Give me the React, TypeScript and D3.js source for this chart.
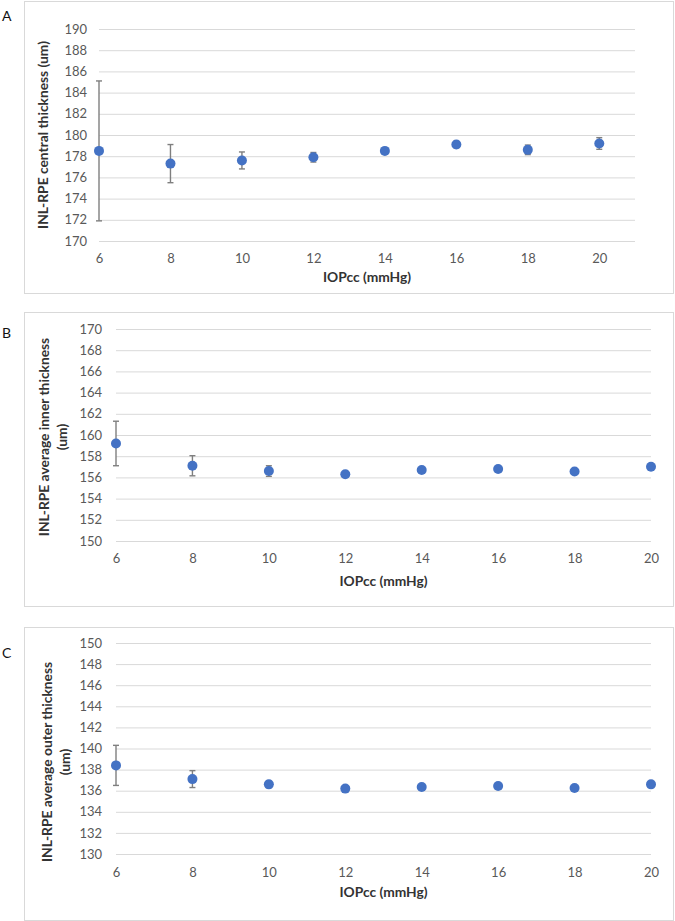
import * as d3 from "d3";
import React, { useEffect, useRef } from "react";

// IOPcc (mmHg) levels
const iop = [6, 8, 10, 12, 14, 16, 18, 20];
const xTicks = [6, 8, 10, 12, 14, 16, 18, 20];

// A: central thickness
const centralMean = [178.5, 177.3, 177.6, 177.9, 178.5, 179.1, 178.6, 179.2];
const centralErr = [6.6, 1.8, 0.8, 0.45, 0.3, 0.3, 0.45, 0.55];
const centralTicks = [170, 172, 174, 176, 178, 180, 182, 184, 186, 188, 190];

// B: average inner thickness
const innerMean = [159.2, 157.1, 156.6, 156.3, 156.7, 156.8, 156.55, 157.0];
const innerErr = [2.1, 0.95, 0.5, 0.2, 0.15, 0.15, 0.15, 0.25];
const innerTicks = [150, 152, 154, 156, 158, 160, 162, 164, 166, 168, 170];

// C: average outer thickness
const outerMean = [138.4, 137.1, 136.6, 136.2, 136.35, 136.45, 136.25, 136.6];
const outerErr = [1.9, 0.8, 0.3, 0.15, 0.15, 0.15, 0.15, 0.2];
const outerTicks = [130, 132, 134, 136, 138, 140, 142, 144, 146, 148, 150];

const width = 675;
const height = 921;
const font = "Lato, 'Open Sans', sans-serif";
const tickSize = 13;
const titleSize = 13.8;

const panels = [
  {
    letter: "A", letterY: 21, frame: [24, 1, 673, 293],
    left: 99, right: 635, top: 29, bottom: 241, xMax: 21,
    ticks: centralTicks, mean: centralMean, err: centralErr,
    title: ["INL-RPE central thickness (um)"], titleX: [48], titleY: 135,
    yLabelX: 87, xLabelY: 263, xTitleY: 282,
  },
  {
    letter: "B", letterY: 338, frame: [24, 312, 673, 606],
    left: 116, right: 651, top: 329, bottom: 541, xMax: 20,
    ticks: innerTicks, mean: innerMean, err: innerErr,
    title: ["INL-RPE average inner thickness", "(um)"], titleX: [49, 67], titleY: 437,
    yLabelX: 102, xLabelY: 563, xTitleY: 586,
  },
  {
    letter: "C", letterY: 658, frame: [24, 627, 673, 920],
    left: 116, right: 651, top: 643, bottom: 854, xMax: 20,
    ticks: outerTicks, mean: outerMean, err: outerErr,
    title: ["INL-RPE average outer thickness", "(um)"], titleX: [52, 70], titleY: 762,
    yLabelX: 102, xLabelY: 877, xTitleY: 897,
  },
];

export default function App() {
  const svgRef = useRef<SVGSVGElement>(null);

  useEffect(() => {
    const svg = d3.select(svgRef.current);
    svg.selectAll("*").remove();

    svg.append("rect").attr("width", width).attr("height", height).attr("fill", "#fff");

    panels.forEach((p) => {
      const g = svg.append("g");
      const [fx0, fy0, fx1, fy1] = p.frame;

      g.append("rect")
        .attr("x", fx0 + 0.5).attr("y", fy0 + 0.5)
        .attr("width", fx1 - fx0).attr("height", fy1 - fy0)
        .attr("fill", "#fff").attr("stroke", "#d9d9d9");

      g.append("text")
        .attr("x", 2).attr("y", p.letterY)
        .attr("font-family", font).attr("font-size", 14)
        .attr("fill", "#111").text(p.letter);

      const x = d3.scaleLinear().domain([6, p.xMax]).range([p.left, p.right]);
      const y = d3.scaleLinear().domain([p.ticks[0], p.ticks[p.ticks.length - 1]]).range([p.bottom, p.top]);

      // y axis + gridlines
      g.append("g")
        .attr("transform", `translate(${p.left},0)`)
        .call(d3.axisLeft(y).tickValues(p.ticks).tickSize(-(p.right - p.left)).tickPadding(p.left - p.yLabelX))
        .call((a) => a.select(".domain").remove())
        .call((a) => a.selectAll(".tick line").attr("stroke", "#d9d9d9").attr("stroke-width", 1))
        .call((a) => a.selectAll("text").attr("fill", "#595959"))
        .attr("font-family", font).attr("font-size", tickSize);

      // x axis labels
      g.append("g")
        .attr("transform", `translate(0,${p.bottom})`)
        .call(d3.axisBottom(x).tickValues(xTicks).tickSize(0).tickPadding(p.xLabelY - p.bottom - 0.71 * tickSize))
        .call((a) => a.select(".domain").remove())
        .call((a) => a.selectAll("text").attr("fill", "#595959"))
        .attr("font-family", font).attr("font-size", tickSize);

      // axis titles
      g.append("text")
        .attr("x", (p.left + p.right) / 2).attr("y", p.xTitleY)
        .attr("text-anchor", "middle")
        .attr("font-family", font).attr("font-size", titleSize).attr("font-weight", "bold")
        .attr("fill", "#333").text("IOPcc (mmHg)");

      p.title.forEach((t, i) => {
        g.append("text")
          .attr("transform", `translate(${p.titleX[i]},${p.titleY}) rotate(-90)`)
          .attr("text-anchor", "middle")
          .attr("font-family", font).attr("font-size", titleSize).attr("font-weight", "bold")
          .attr("fill", "#333").text(t);
      });

      // error bars
      const bars = g.append("g").attr("stroke", "#7f7f7f").attr("stroke-width", 1.4);
      iop.forEach((v, i) => {
        const cx = x(v);
        const lo = y(p.mean[i] - p.err[i]);
        const hi = y(p.mean[i] + p.err[i]);
        bars.append("line").attr("x1", cx).attr("x2", cx).attr("y1", lo).attr("y2", hi);
        bars.append("line").attr("x1", cx - 3).attr("x2", cx + 3).attr("y1", lo).attr("y2", lo);
        bars.append("line").attr("x1", cx - 3).attr("x2", cx + 3).attr("y1", hi).attr("y2", hi);
      });

      // points
      g.append("g").selectAll("circle")
        .data(iop)
        .join("circle")
        .attr("cx", (d) => x(d))
        .attr("cy", (d, i) => y(p.mean[i]))
        .attr("r", 5)
        .attr("fill", "#4472c4");
    });
  });

  return (
    <svg
      ref={svgRef}
      width={width}
      height={height}
      style={{ position: "absolute", left: 0, top: 0, display: "block" }}
    />
  );
}
